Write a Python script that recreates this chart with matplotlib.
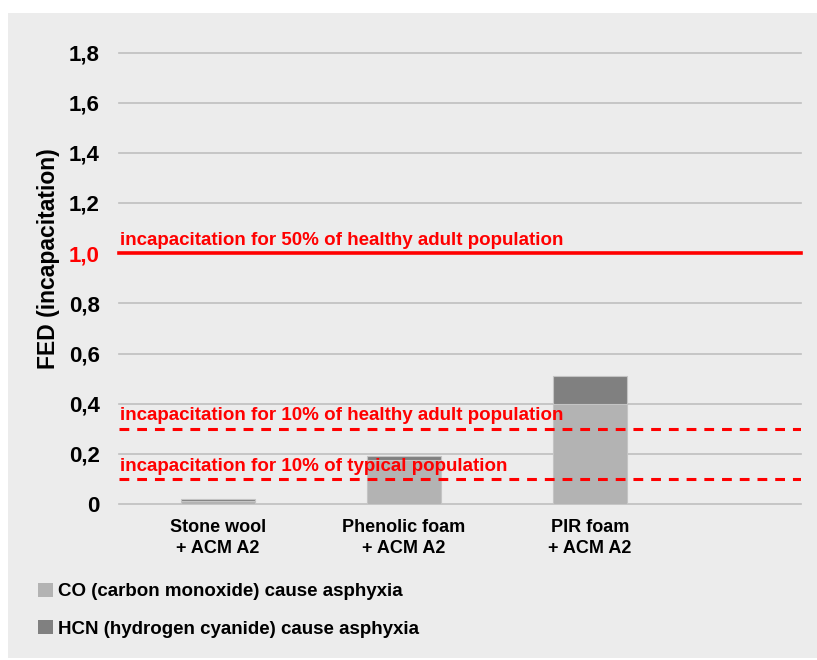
import matplotlib
matplotlib.use("Agg")
import matplotlib.pyplot as plt
from matplotlib.patches import Rectangle, Patch
from matplotlib.font_manager import fontManager
import numpy as np

# values
categories = ["Stone wool\n+ ACM A2", "Phenolic foam\n+ ACM A2", "PIR foam\n+ ACM A2"]
co_values = [0.012, 0.176, 0.40]
hcn_values = [0.006, 0.014, 0.11]
yticks = [0, 0.2, 0.4, 0.6, 0.8, 1.0, 1.2, 1.4, 1.6, 1.8]
ytick_labels = ["0", "0,2", "0,4", "0,6", "0,8", "1,0", "1,2", "1,4", "1,6", "1,8"]
thresholds = [1.0, 0.3, 0.1]
threshold_labels = ["incapacitation for 50% of healthy adult population",
                    "incapacitation for 10% of healthy adult population",
                    "incapacitation for 10% of typical population"]
threshold_styles = ["solid", "dashed", "dashed"]
legend_labels = ["CO (carbon monoxide) cause asphyxia",
                 "HCN (hydrogen cyanide) cause asphyxia"]

names = {f.name for f in fontManager.ttflist}
main_font = "Liberation Sans" if "Liberation Sans" in names else "DejaVu Sans"
narrow_font = "Liberation Sans Narrow" if "Liberation Sans Narrow" in names else main_font
plt.rcParams["font.family"] = main_font
plt.rcParams["font.weight"] = "bold"

bg = "#ececec"
co_color = "#b3b3b3"
hcn_color = "#808080"
grid_color = "#bfbfbf"
red = "#ff0000"

W, H = 817, 660
fig = plt.figure(figsize=(W / 100, H / 100), dpi=100, facecolor="white")
fig.patches.append(Rectangle((8 / W, 2 / H), 1 - 8 / W, (658 - 13) / H,
                             transform=fig.transFigure, facecolor=bg,
                             edgecolor="none", zorder=-5))

ax = fig.add_axes([119 / W, (H - 504) / H, (801 - 119) / W, (504 - 52.5) / H])
ax.set_facecolor("none")

x = np.arange(len(categories))
ax.bar(x, co_values, width=0.4, color=co_color, edgecolor="#c4c4c4",
       linewidth=0.8, zorder=2)
ax.bar(x, hcn_values, width=0.4, bottom=co_values, color=hcn_color,
       edgecolor="#c4c4c4", linewidth=0.8, zorder=2)

ax.set_ylim(0, 1.8)
ax.set_xlim(-0.532, 3.135)
for y in yticks:
    ax.axhline(y, color=grid_color, linewidth=1.2, zorder=1, clip_on=False)

for y, lab, ls in zip(thresholds, threshold_labels, threshold_styles):
    if ls == "solid":
        ax.axhline(y, color=red, linewidth=2.6, zorder=4, clip_on=False)
    else:
        ax.axhline(y, color=red, linewidth=2.2, dashes=(3.2, 2.6), zorder=4)
    ax.text(0.002, y + 0.033, lab, transform=ax.get_yaxis_transform(),
            color=red, fontsize=13.5, fontweight="bold", family=narrow_font,
            va="baseline", ha="left", zorder=5)

ax.set_yticks(yticks)
ax.set_yticklabels(ytick_labels, fontsize=16, fontweight="bold")
ax.get_yticklabels()[5].set_color(red)
ax.set_xticks(x)
ax.set_xticklabels(categories, fontsize=13, fontweight="bold", linespacing=1.25)
ax.tick_params(axis="y", length=0, pad=14)
ax.tick_params(axis="x", length=0, pad=11)
for s in ax.spines.values():
    s.set_visible(False)

ax.set_ylabel("FED (incapacitation)", fontsize=16.5, fontweight="bold")
ax.yaxis.set_label_coords(-0.086, 0.543)

handles = [Patch(facecolor=co_color, edgecolor="none"),
           Patch(facecolor=hcn_color, edgecolor="none")]
fig.legend(handles, legend_labels, loc="upper left",
           bbox_to_anchor=(30 / W, (H - 575) / H), frameon=False,
           prop={"size": 13.5, "weight": "bold"}, handlelength=0.8,
           handleheight=0.8, handletextpad=0.3, labelspacing=1.05,
           borderaxespad=0)

fig.savefig("out.png", dpi=100, facecolor="white")
